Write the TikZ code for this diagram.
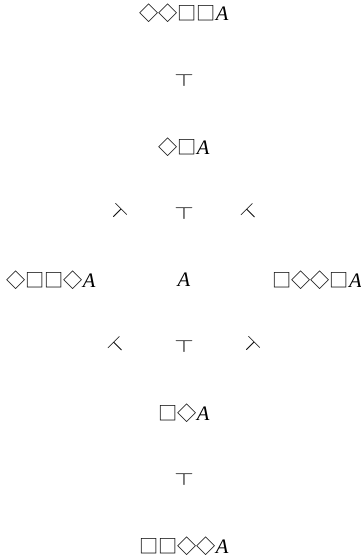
\documentclass[tikz,border=0pt]{standalone}
\usepackage{fontspec}
\setmainfont{Liberation Serif}
\newfontfamily\symfont[Scale=0.93]{Noto Sans CJK SC}
\usetikzlibrary{calc}
\newcommand{\Dia}{{\symfont ◇}}
\newcommand{\Bx}{{\symfont □}}
\newcommand{\Ent}{\scalebox{1.25}[0.87]{$\top$}}
\newcommand{\At}{\textit{A}}
\tikzset{
  formula/.style={inner sep=1pt, font=\fontsize{10.3}{12}\selectfont},
  entail/.style={inner sep=0pt, rotate=#1, font=\fontsize{10}{12}\selectfont},
  entail/.default=0,
}

\begin{document}
\begin{tikzpicture}
  \useasboundingbox (-3.233,-4.885) rectangle (3.093,4.92);
  % --- formulas, top to bottom ---
  \node[formula] (ddbb) at (0,4.68) {\Dia\Dia\Bx\Bx\At};
  \node[formula] (db) at (0,2.34) {\Dia\Bx\At};
  \node[formula] (dbbd) at (-2.34,0) {\Dia\Bx\Bx\Dia\At};
  \node[formula] (a) at (0,0) {\At};
  \node[formula] (bddb) at (2.34,0) {\Bx\Dia\Dia\Bx\At};
  \node[formula] (bd) at (0,-2.34) {\Bx\Dia\At};
  \node[formula] (bbdd) at (0,-4.68) {\Bx\Bx\Dia\Dia\At};

  % --- entailments, half way between ---
  \node[entail] (e1) at ($(ddbb)!0.5!(db)$) {\Ent};
  \node[entail=-45] (e2) at ($(db)!0.5!(dbbd)$) {\Ent};
  \node[entail] (e3) at ($(db)!0.5!(a)$) {\Ent};
  \node[entail=45] (e4) at ($(db)!0.5!(bddb)$) {\Ent};
  \node[entail=45] (e5) at ($(dbbd)!0.5!(bd)$) {\Ent};
  \node[entail] (e6) at ($(a)!0.5!(bd)$) {\Ent};
  \node[entail=-45] (e7) at ($(bddb)!0.5!(bd)$) {\Ent};
  \node[entail] (e8) at ($(bd)!0.5!(bbdd)$) {\Ent};
\end{tikzpicture}
\end{document}
